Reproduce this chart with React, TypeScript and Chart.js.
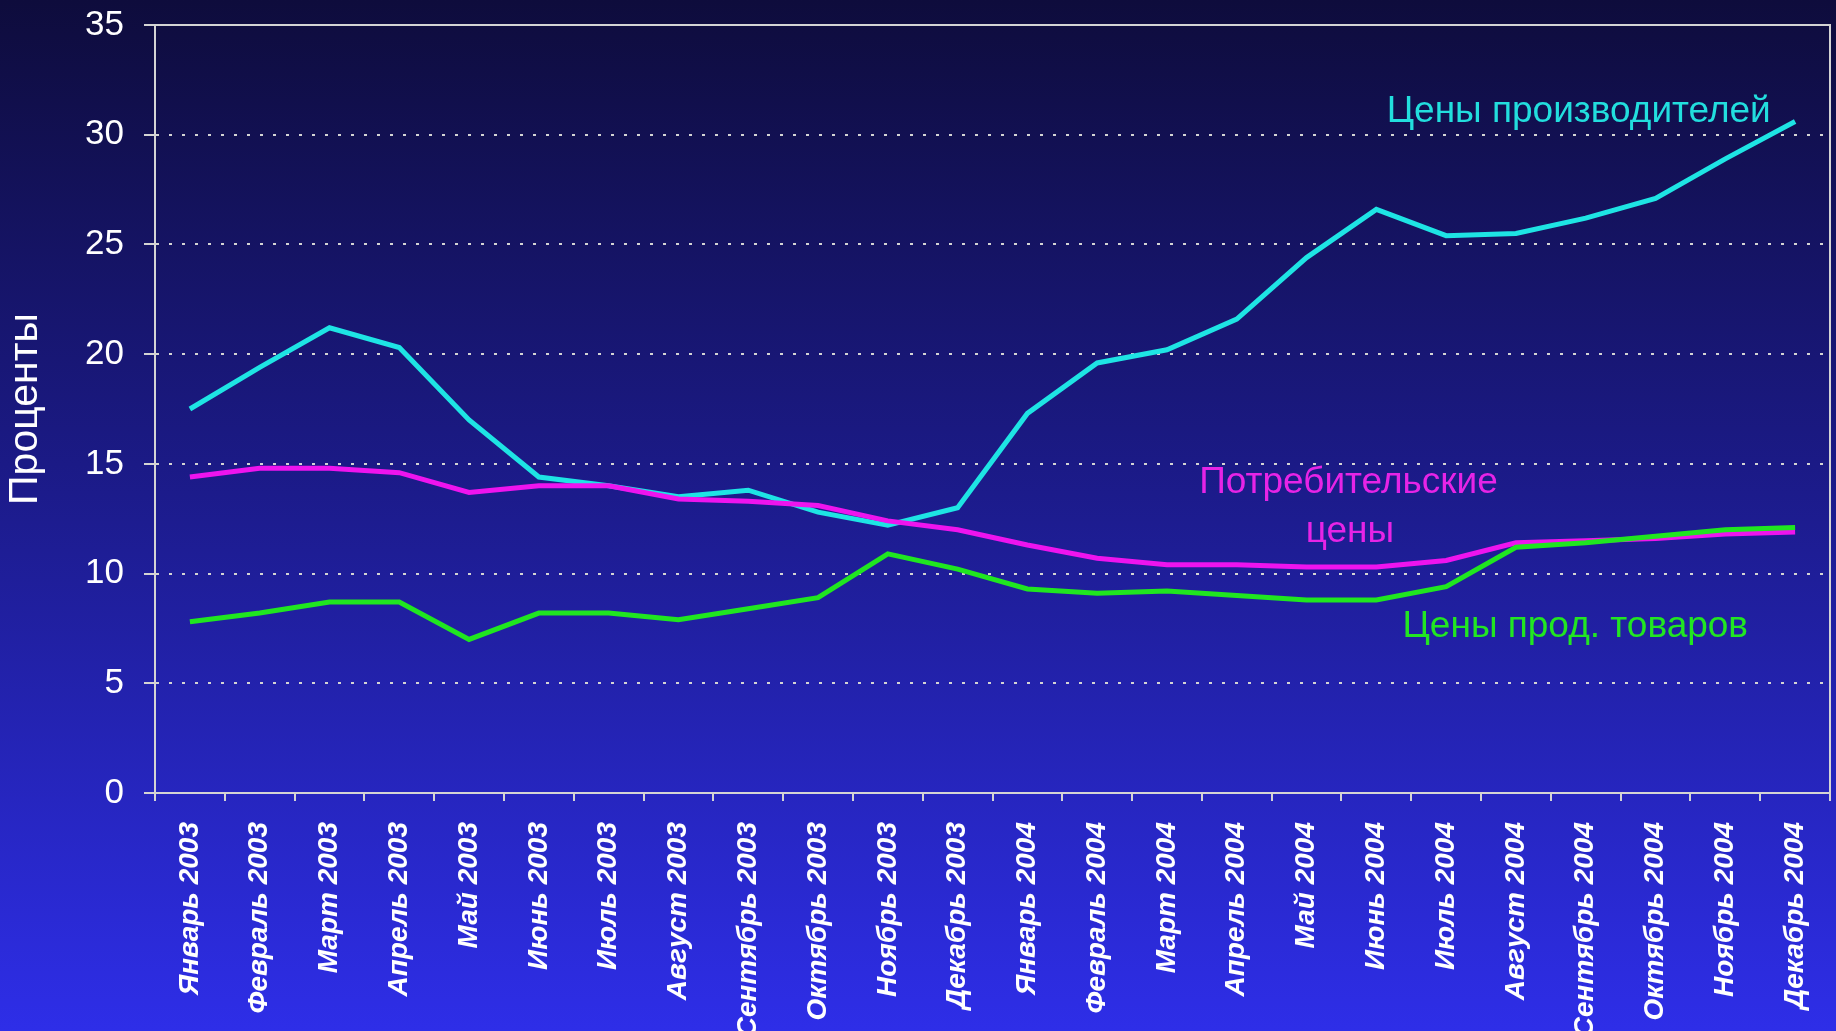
import React, { useEffect, useRef } from "react";
import { Chart, registerables } from "chart.js";

Chart.register(...registerables);

const LABELS: string[] = [
  "Январь 2003", "Февраль 2003", "Март 2003", "Апрель 2003", "Май 2003", "Июнь 2003",
  "Июль 2003", "Август 2003", "Сентябрь 2003", "Октябрь 2003", "Ноябрь 2003", "Декабрь 2003",
  "Январь 2004", "Февраль 2004", "Март 2004", "Апрель 2004", "Май 2004", "Июнь 2004",
  "Июль 2004", "Август 2004", "Сентябрь 2004", "Октябрь 2004", "Ноябрь 2004", "Декабрь 2004",
];

const PRODUCER_PRICES: number[] = [
  17.5, 19.4, 21.2, 20.3, 17.0, 14.4, 14.0, 13.5, 13.8, 12.8, 12.2, 13.0,
  17.3, 19.6, 20.2, 21.6, 24.4, 26.6, 25.4, 25.5, 26.2, 27.1, 28.9, 30.6,
];

const CONSUMER_PRICES: number[] = [
  14.4, 14.8, 14.8, 14.6, 13.7, 14.0, 14.0, 13.4, 13.3, 13.1, 12.4, 12.0,
  11.3, 10.7, 10.4, 10.4, 10.3, 10.3, 10.6, 11.4, 11.5, 11.6, 11.8, 11.9,
];

const FOOD_PRICES: number[] = [
  7.8, 8.2, 8.7, 8.7, 7.0, 8.2, 8.2, 7.9, 8.4, 8.9, 10.9, 10.2,
  9.3, 9.1, 9.2, 9.0, 8.8, 8.8, 9.4, 11.2, 11.4, 11.7, 12.0, 12.1,
];

const Y_TITLE = "Проценты";

// Series captions, anchored in data coordinates (category index, value)
const CAPTION_TEXTS: string[] = ["Цены производителей", "Потребительские", "цены", "Цены прод. товаров"];
const CAPTION_X: number[] = [19.9, 16.6, 16.62, 19.85];
const CAPTION_Y: number[] = [30.58, 13.67, 11.44, 7.12];
const CAPTION_COLORS: string[] = ["#22dede", "#e624e6", "#e624e6", "#22e622"];

const FONT = '"Liberation Sans", Arial, sans-serif';

const captionPlugin = {
  id: "captions",
  afterDatasetsDraw(chart: any) {
    const { ctx, scales } = chart;
    const x = scales.x;
    const y = scales.y;
    ctx.save();
    ctx.font = `37px ${FONT}`;
    ctx.textAlign = "center";
    ctx.textBaseline = "alphabetic";
    for (let i = 0; i < CAPTION_TEXTS.length; i++) {
      ctx.fillStyle = CAPTION_COLORS[i];
      ctx.fillText(CAPTION_TEXTS[i], x.getPixelForValue(CAPTION_X[i]), y.getPixelForValue(CAPTION_Y[i]));
    }
    ctx.restore();
  },
};

export default function App() {
  const ref = useRef<HTMLCanvasElement | null>(null);

  useEffect(() => {
    if (!ref.current) return;
    Chart.defaults.font.family = FONT;
    const axisColor = "#d4d4d4";
    const chart = new Chart(ref.current, {
      type: "line",
      data: {
        labels: LABELS,
        datasets: [
          {
            label: "Цены прод. товаров",
            data: FOOD_PRICES,
            borderColor: "#20e620",
            backgroundColor: "#20e620",
            borderWidth: 5,
            pointRadius: 0,
            tension: 0,
          },
          {
            label: "Потребительские цены",
            data: CONSUMER_PRICES,
            borderColor: "#ee14ee",
            backgroundColor: "#ee14ee",
            borderWidth: 5,
            pointRadius: 0,
            tension: 0,
          },
          {
            label: "Цены производителей",
            data: PRODUCER_PRICES,
            borderColor: "#1ee4e4",
            backgroundColor: "#1ee4e4",
            borderWidth: 5,
            pointRadius: 0,
            tension: 0,
          },
        ],
      },
      options: {
        responsive: false,
        animation: false,
        layout: { padding: { top: 25, right: 6, left: 0, bottom: 0 } },
        plugins: {
          legend: { display: false },
          tooltip: { enabled: false },
        },
        scales: {
          x: {
            type: "category",
            offset: true,
            grid: {
              display: true,
              offset: true,
              drawOnChartArea: false,
              drawTicks: true,
              tickLength: 8,
              color: axisColor,
              lineWidth: 2,
            },
            border: { display: true, color: axisColor, width: 2 },
            ticks: {
              color: "#ffffff",
              autoSkip: false,
              maxRotation: 90,
              minRotation: 90,
              padding: 21,
              font: { size: 28, style: "italic", weight: "bold", family: FONT },
            },
            afterFit: (s: any) => {
              s.height = 238;
              s.paddingLeft = 0;
              s.paddingRight = 0;
            },
          },
          y: {
            min: 0,
            max: 35,
            ticks: {
              stepSize: 5,
              color: "#ffffff",
              padding: 20,
              font: { size: 35, family: FONT },
            },
            grid: {
              color: axisColor,
              lineWidth: 2,
              tickLength: 11,
              drawTicks: true,
            },
            border: {
              display: true,
              color: axisColor,
              width: 2,
              dash: (c: any) => (c.tick && (c.tick.value === 35 || c.tick.value === 0) ? [] : [3, 10]),
            },
            title: {
              display: true,
              text: Y_TITLE,
              color: "#ffffff",
              font: { size: 41, family: FONT },
              padding: { top: 1, bottom: 0 },
            },
            afterFit: (s: any) => {
              s.width = 155;
              s.paddingTop = 0;
              s.paddingBottom = 0;
            },
          },
          y2: {
            position: "right",
            display: true,
            grid: { display: false, drawTicks: false },
            ticks: { display: false },
            border: { display: true, color: axisColor, width: 2 },
            afterFit: (s: any) => {
              s.width = 0;
              s.paddingTop = 0;
              s.paddingBottom = 0;
            },
          },
        },
      },
      plugins: [captionPlugin],
    });
    return () => chart.destroy();
  }, []);

  return (
    <div
      style={{
        position: "absolute",
        left: 0,
        top: 0,
        width: 1836,
        height: 1031,
        background: "linear-gradient(to bottom, #0e0c3c 0%, #1b1a86 45%, #2e2ee8 100%)",
        overflow: "hidden",
      }}
    >
      <canvas ref={ref} width={1836} height={1031} style={{ display: "block" }} />
    </div>
  );
}
